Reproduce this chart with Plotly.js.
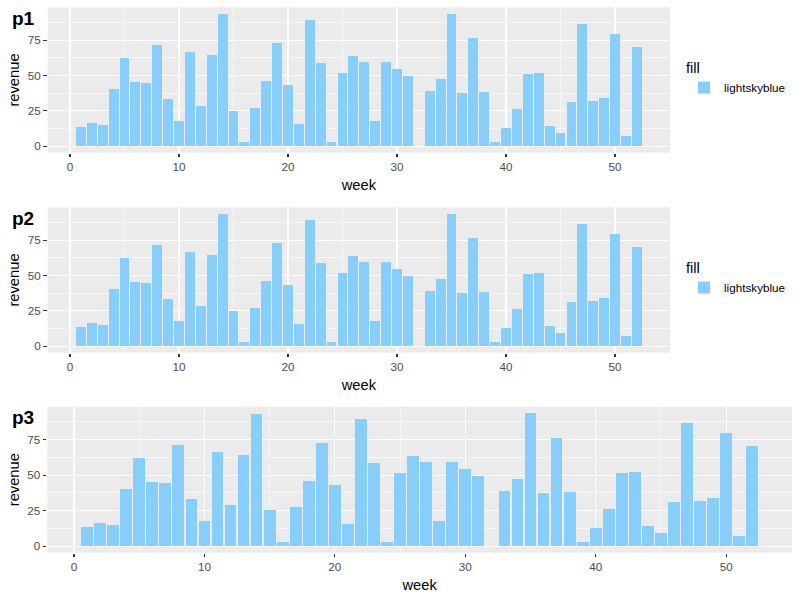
<!DOCTYPE html>
<html>
<head>
<meta charset="utf-8">
<script src="https://cdn.plot.ly/plotly-3.0.1.min.js"></script>
<style>html,body{margin:0;padding:0;background:#fff}#chart{width:800px;height:600px}</style>
</head>
<body>
<div id="chart"></div>
<script>
const weeks = [1,2,3,4,5,6,7,8,9,10,11,12,13,14,15,16,17,18,19,20,21,22,23,24,25,26,
               27,28,29,30,31,32,33,34,35,36,37,38,39,40,41,42,43,44,45,46,47,48,49,50,51,52];
const revenue = [13.3,16.5,15.1,40.5,62.2,45.4,44.7,71.3,33.5,17.5,66.4,28.7,64.3,93.4,25.2,2.8,
                 27.3,46.1,72.7,43.3,15.4,89.4,58.7,2.8,51.7,63.6,59.4,17.5,59.4,54.5,49.4,0,
                 39.0,47.3,93.6,37.5,76.2,38.0,2.8,12.8,26.3,51.4,52.1,14.4,9.5,31.3,86.5,31.7,
                 33.8,79.5,7.2,70.4];
const xTicks = [0,10,20,30,40,50];
const yTicks = [0,25,50,75];
const panelTitles = ["p1","p2","p3"];
const fillName = "lightskyblue";

const FONT = "Liberation Sans, Arial, sans-serif";
const W = 800, H = 600;
const px = v => v / W;
const py = v => 1 - v / H;

const traces = [];
const axisNames = ["", "2", "3"];
const legends = ["legend", "legend2", null];
axisNames.forEach((a, i) => {
  const t = {
    type: "bar", x: weeks, y: revenue, width: 0.9,
    marker: {color: "#87CEFA", line: {width: 0}},
    name: fillName, xaxis: "x" + a, yaxis: "y" + a,
    hoverinfo: "x+y"
  };
  if (legends[i]) { t.legend = legends[i]; t.showlegend = true; } else { t.showlegend = false; }
  traces.push(t);
});

function xax(domain, anchor) {
  return {
    domain: domain, anchor: anchor, range: [-2.045, 55.045],
    tickvals: xTicks, ticktext: xTicks.map(String),
    ticks: "outside", ticklen: 3.7, tickwidth: 1.07, tickcolor: "#333333",
    tickfont: {family: FONT, size: 11.7, color: "#4D4D4D"},
    showgrid: true, gridcolor: "#FFFFFF", gridwidth: 1.07,
    minor: {tickvals: [5,15,25,35,45,55], showgrid: true, gridcolor: "#FFFFFF", gridwidth: 0.55, ticks: ""},
    zeroline: false, showline: false, fixedrange: true,
    title: {text: "week", font: {family: FONT, size: 14.7, color: "#000"}, standoff: 7}
  };
}
function yax(domain, anchor) {
  return {
    domain: domain, anchor: anchor, range: [-4.68, 98.28],
    tickvals: yTicks, ticktext: yTicks.map(String),
    ticks: "outside", ticklen: 3.7, tickwidth: 1.07, tickcolor: "#333333",
    tickfont: {family: FONT, size: 11.7, color: "#4D4D4D"},
    showgrid: true, gridcolor: "#FFFFFF", gridwidth: 1.07,
    minor: {tickvals: [12.5,37.5,62.5,87.5], showgrid: true, gridcolor: "#FFFFFF", gridwidth: 0.55, ticks: ""},
    zeroline: false, showline: false, fixedrange: true,
    title: {text: "revenue", font: {family: FONT, size: 14.7, color: "#000"}, standoff: 4}
  };
}

const p12x = [px(47.7), px(670)];
const p3x = [px(47.3), px(792)];
const ydom = [[py(152.7), py(7.3)], [py(352.7), py(207.3)], [py(552.7), py(406.7)]];
const panelTops = [7.3, 207.3, 406.7];

function legendAt(topPx) {
  return {
    x: px(684), y: py(topPx), xanchor: "left", yanchor: "top",
    bgcolor: "rgba(0,0,0,0)",
    title: {text: "fill", font: {family: FONT, size: 14.7, color: "#000"}},
    font: {family: FONT, size: 11.7, color: "#000"},
    itemwidth: 30, tracegroupgap: 0
  };
}

const annotations = panelTitles.map((t, i) => ({
  text: "<b>" + t + "</b>", xref: "paper", yref: "paper",
  x: px(10), y: py(panelTops[i] - 1.5), xanchor: "left", yanchor: "top",
  showarrow: false, font: {family: FONT, size: 19, color: "#000"}
}));

const layout = {
  width: W, height: H,
  margin: {l: 0, r: 0, t: 0, b: 0, pad: 0},
  paper_bgcolor: "#FFFFFF", plot_bgcolor: "#EBEBEB",
  font: {family: FONT},
  bargap: 0,
  xaxis: xax(p12x, "y"), yaxis: yax(ydom[0], "x"),
  xaxis2: xax(p12x, "y2"), yaxis2: yax(ydom[1], "x2"),
  xaxis3: xax(p3x, "y3"), yaxis3: yax(ydom[2], "x3"),
  legend: legendAt(54),
  legend2: legendAt(254),
  annotations: annotations
};

Plotly.newPlot("chart", traces, layout, {displayModeBar: false, staticPlot: true});
</script>
</body>
</html>
